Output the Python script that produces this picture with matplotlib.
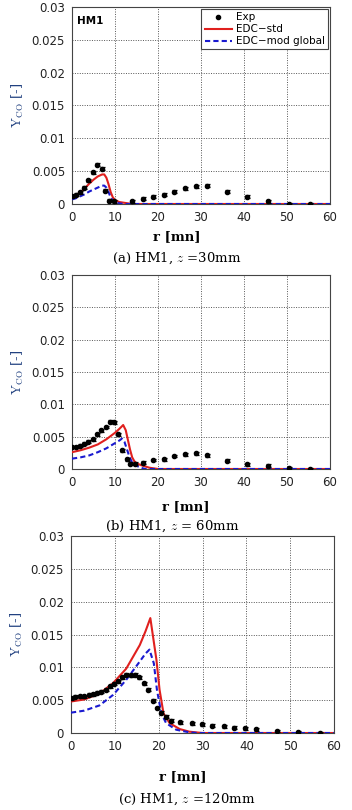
import numpy as np
import matplotlib.pyplot as plt

plt.rcParams['mathtext.fontset'] = 'cm'

# ---- data ----
# panel (a) z = 30 mm
exp_r_a = [0.0, 1.0, 1.9, 2.8, 3.8, 4.8, 5.7, 6.9, 7.7, 8.7, 9.8, 14.0, 16.6, 18.9,
           21.4, 23.8, 26.3, 28.8, 31.3, 36.0, 40.8, 45.6, 50.5, 55.3]
exp_y_a = [0.0012, 0.0014, 0.0018, 0.0025, 0.0036, 0.0048, 0.0060, 0.0054, 0.0020,
           0.0005, 0.0004, 0.0004, 0.0008, 0.0011, 0.0014, 0.0019, 0.0024, 0.0027,
           0.0028, 0.0019, 0.0011, 0.0004, 0.0000, 0.0000]
std_r_a = [0, 1, 2, 3, 4, 5, 6, 7, 7.5, 8, 8.5, 9, 9.5, 10, 11, 12, 13, 14, 20, 60]
std_y_a = [0.0012, 0.0014, 0.0018, 0.0024, 0.0031, 0.0037, 0.0042, 0.0045, 0.0045,
           0.0040, 0.0030, 0.0018, 0.0010, 0.0006, 0.0003, 0.0002, 0.0001, 0.0, 0.0, 0.0]
mod_r_a = [0, 1, 2, 3, 4, 5, 6, 7, 7.5, 8, 8.5, 9, 9.5, 10, 11, 12, 20, 60]
mod_y_a = [0.0007, 0.0009, 0.0012, 0.0015, 0.0019, 0.0022, 0.0025, 0.0028, 0.0028,
           0.0025, 0.0018, 0.0010, 0.0005, 0.0002, 0.0001, 0.0, 0.0, 0.0]

# panel (b) z = 60 mm
exp_r_b = [0.0, 0.9, 1.9, 2.8, 3.8, 4.8, 5.7, 6.7, 7.8, 8.8, 9.8, 10.8, 11.7, 12.7,
           13.6, 14.6, 16.6, 18.9, 21.4, 23.8, 26.3, 28.8, 31.3, 36.0, 40.8, 45.6,
           50.5, 55.3]
exp_y_b = [0.0034, 0.0034, 0.0036, 0.0039, 0.0042, 0.0046, 0.0054, 0.0060, 0.0065,
           0.0073, 0.0072, 0.0054, 0.0029, 0.0015, 0.0008, 0.0008, 0.0010, 0.0014,
           0.0015, 0.0020, 0.0023, 0.0024, 0.0021, 0.0013, 0.0007, 0.0005, 0.0001,
           0.0000]
std_r_b = [0, 2, 4, 6, 8, 10, 11, 11.9, 12.5, 13, 13.5, 14, 14.5, 15, 16, 17, 18,
           20, 60]
std_y_b = [0.0026, 0.0029, 0.0033, 0.0038, 0.0046, 0.0056, 0.0062, 0.0068, 0.0060,
           0.0045, 0.0030, 0.0018, 0.0012, 0.0009, 0.0006, 0.0004, 0.0002, 0.0,
           0.0]
mod_r_b = [0, 2, 4, 6, 8, 10, 11, 11.6, 12.2, 12.8, 13.4, 14, 15, 16, 17, 60]
mod_y_b = [0.0016, 0.0018, 0.0021, 0.0026, 0.0032, 0.0040, 0.0044, 0.0047, 0.0042,
           0.0030, 0.0018, 0.0010, 0.0005, 0.0002, 0.0, 0.0]

# panel (c) z = 120 mm
exp_r_c = [0.0, 0.9, 2.0, 3.0, 4.0, 5.0, 5.9, 6.9, 7.9, 8.8, 9.8, 10.7, 11.7, 12.6,
           13.6, 14.5, 15.5, 16.6, 17.6, 18.7, 19.6, 20.6, 21.6, 22.7, 24.8, 27.5,
           29.8, 32.2, 34.8, 37.3, 39.8, 42.1, 47.0, 51.9, 56.7]
exp_y_c = [0.0053, 0.0055, 0.0056, 0.0056, 0.0058, 0.0059, 0.0061, 0.0063, 0.0066,
           0.0071, 0.0075, 0.0079, 0.0085, 0.0089, 0.0088, 0.0089, 0.0085, 0.0076,
           0.0066, 0.0049, 0.0038, 0.0031, 0.0025, 0.0019, 0.0016, 0.0015, 0.0013,
           0.0011, 0.0010, 0.0008, 0.0007, 0.0006, 0.0003, 0.0001, 0.0000]
std_r_c = [0, 3, 6.5, 9.6, 12.6, 15.7, 17, 18.1, 19.5, 20.2, 21.1, 22.5, 24.8, 27,
           30, 60]
std_y_c = [0.0048, 0.0051, 0.0060, 0.0076, 0.0098, 0.0134, 0.0155, 0.0175, 0.0111,
           0.0066, 0.0030, 0.0015, 0.0006, 0.0002, 0.0, 0.0]
mod_r_c = [0, 3, 6.5, 9.6, 12.6, 15.7, 17, 17.9, 18.9, 19.6, 20.6, 21.7, 24, 27,
           29, 60]
mod_y_c = [0.0031, 0.0034, 0.0042, 0.0058, 0.0081, 0.0109, 0.0121, 0.0127, 0.0106,
           0.0066, 0.0030, 0.0015, 0.0005, 0.0001, 0.0, 0.0]

panels = [
    (exp_r_a, exp_y_a, std_r_a, std_y_a, mod_r_a, mod_y_a),
    (exp_r_b, exp_y_b, std_r_b, std_y_b, mod_r_b, mod_y_b),
    (exp_r_c, exp_y_c, std_r_c, std_y_c, mod_r_c, mod_y_c),
]
captions = [r'(a) HM1, $z$ =30mm', r'(b) HM1, $z$ = 60mm', r'(c) HM1, $z$ =120mm']

# axes boxes in pixels: left, top, right, bottom
boxes = [(72, 7, 330, 204), (72, 275, 330, 469), (71, 536, 334, 733)]
xlab_pos = [(177, 237), (186, 507), (183, 777)]
cap_pos = [(177, 258), (172, 526), (187, 799)]

W, H = 352, 810
fig = plt.figure(figsize=(W / 100, H / 100), dpi=100)

for i, (er, ey, sr, sy, mr, my) in enumerate(panels):
    l, t, r, b = boxes[i]
    ax = fig.add_axes([l / W, 1 - b / H, (r - l) / W, (b - t) / H])

    h_exp = ax.errorbar(er, ey, yerr=0.00022, fmt='o', color='black', ms=3,
                        capsize=1.8, elinewidth=0.9, capthick=0.9, zorder=4)
    h_std, = ax.plot(sr, sy, color='#e0201e', lw=1.5, zorder=3)
    h_mod, = ax.plot(mr, my, color='#1a1ad0', lw=1.5, ls=(0, (2.5, 1.5)), zorder=3)

    ax.set_xlim(0, 60)
    ax.set_ylim(0, 0.03)
    ax.set_xticks(np.arange(0, 61, 10))
    ax.set_yticks([0, 0.005, 0.01, 0.015, 0.02, 0.025, 0.03])
    ax.set_yticklabels(['0', '0.005', '0.01', '0.015', '0.02', '0.025', '0.03'])
    ax.tick_params(labelsize=8.5, length=0, pad=5, labelcolor='#222222')
    ax.grid(True, ls=(0, (1, 1.5)), color='#555555', lw=0.7)
    for s in ax.spines.values():
        s.set_color('#444444')
        s.set_linewidth(0.8)

    ax.set_ylabel(r'$\mathrm{Y_{CO}}$ [-]', family='serif', fontsize=9.5,
                  color='#1f3f7f', labelpad=4)

    fig.text(xlab_pos[i][0] / W, 1 - xlab_pos[i][1] / H, 'r [mn]',
             ha='center', va='center', family='serif', fontsize=9.5,
             fontweight='bold')
    fig.text(cap_pos[i][0] / W, 1 - cap_pos[i][1] / H, captions[i],
             ha='center', va='center', family='serif', fontsize=9.5)

    if i == 0:
        ax.text(0.02, 0.955, 'HM1', transform=ax.transAxes, fontsize=7.5,
                fontweight='bold', va='top')
        # marker-only handle for Exp in the legend
        exp_leg, = ax.plot([], [], 'o', color='black', ms=3)
        leg = ax.legend([exp_leg, h_std, h_mod],
                        ['Exp', 'EDC\u2212std', 'EDC\u2212mod global'],
                        loc='upper right', fontsize=7.5, handlelength=2.6,
                        borderpad=0.3, labelspacing=0.2, handletextpad=0.4,
                        fancybox=False, framealpha=1, edgecolor='#444444',
                        borderaxespad=0.2)
        leg.get_frame().set_linewidth(0.8)

fig.savefig('out.png', dpi=100)
